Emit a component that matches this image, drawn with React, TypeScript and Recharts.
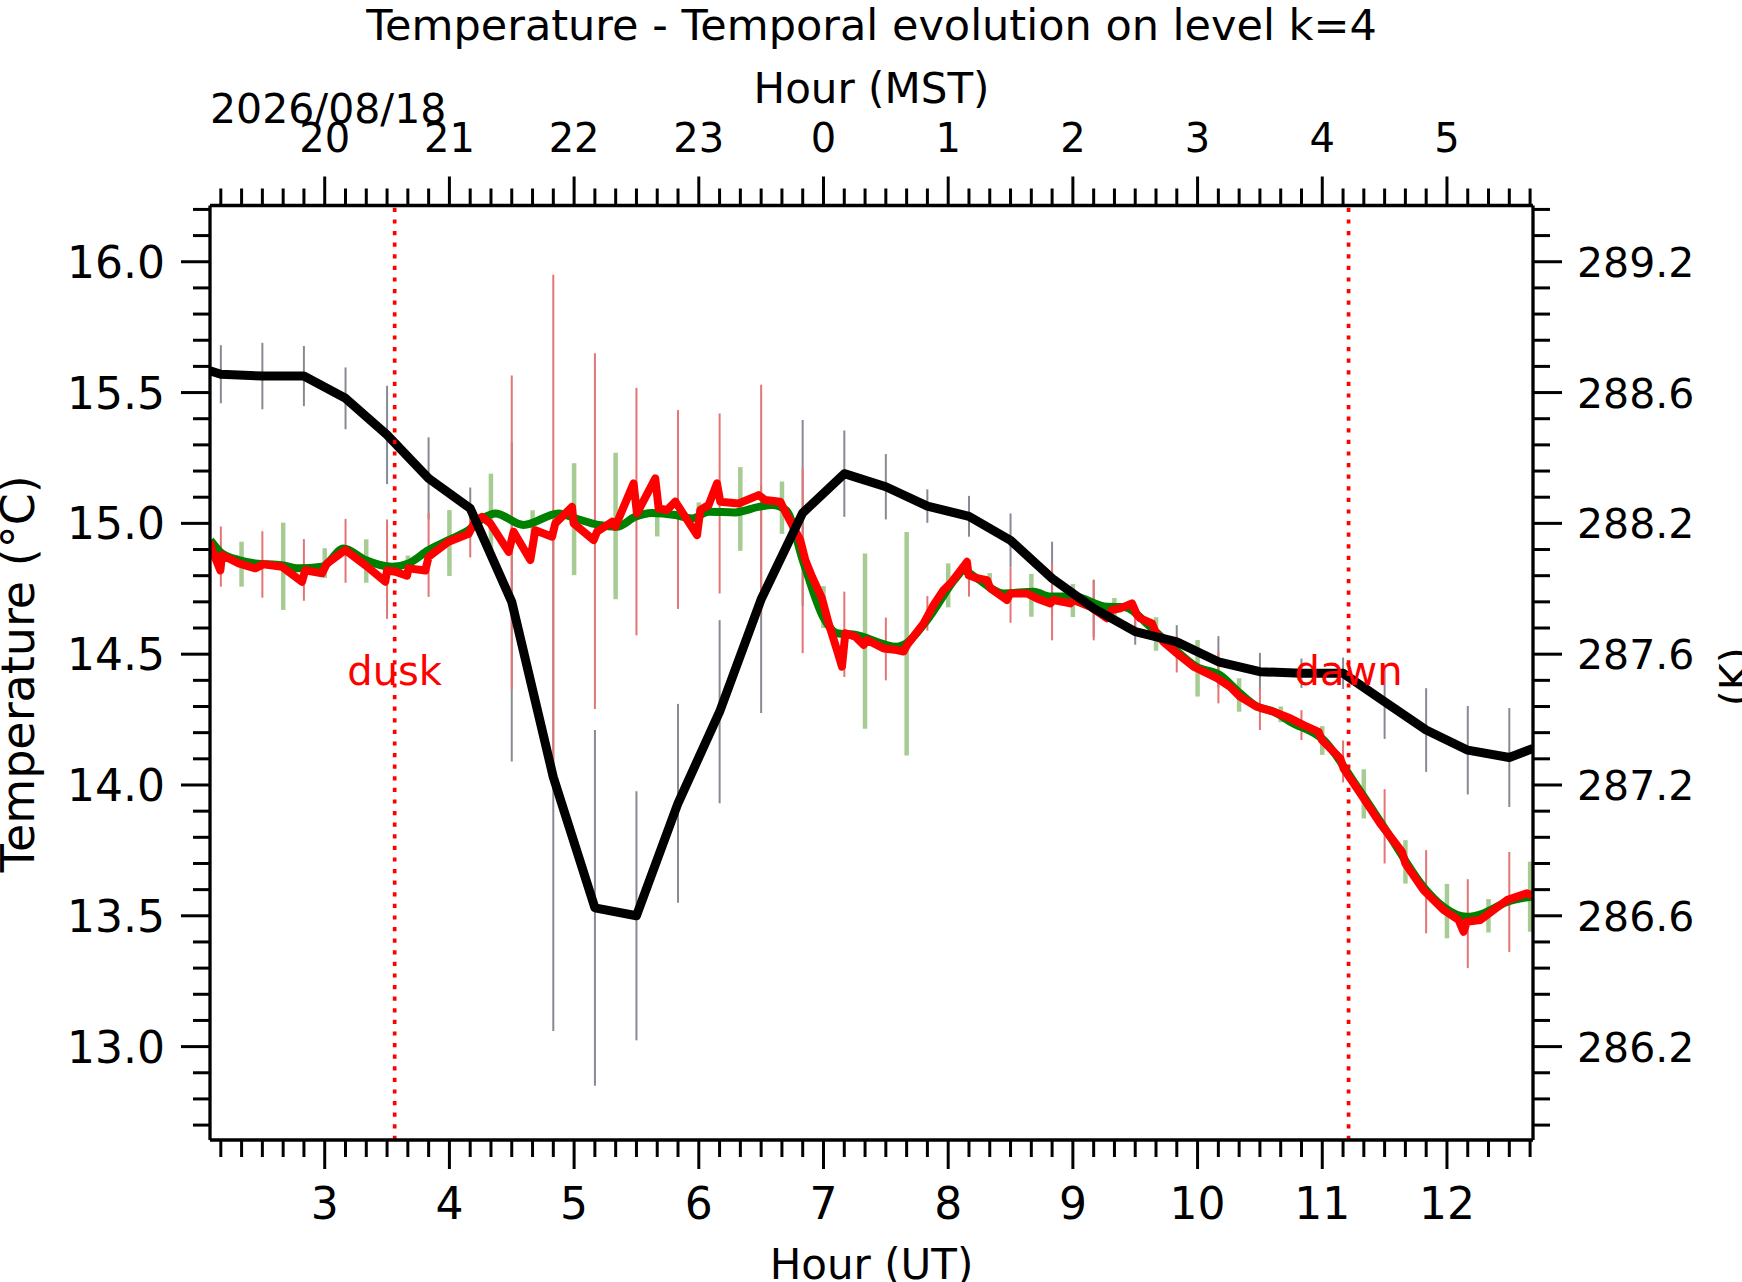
import React from "react";
import { ComposedChart, Line, XAxis, YAxis, ErrorBar, ReferenceLine, ReferenceDot } from "recharts";

// ---- data (hours UT, temperatures in degC) ----
const blackHours = [
    2.08, 2.167, 2.5, 2.833, 3.167, 3.5, 3.833, 4.167, 4.5, 4.833, 5.167, 5.5, 5.833, 6.167, 6.5, 6.833, 7.167,
    7.5, 7.833, 8.167, 8.5, 8.833, 9.167, 9.5, 9.833, 10.167, 10.5, 10.833, 11.167, 11.5, 11.833, 12.167, 12.5, 12.69,
];
const blackTemps = [
    15.583, 15.57, 15.563, 15.563, 15.478, 15.338, 15.172, 15.057, 14.7, 14.03, 13.53, 13.5, 13.93, 14.28, 14.71,
    15.04, 15.19, 15.14, 15.066, 15.027, 14.935, 14.79, 14.675, 14.586, 14.547, 14.471, 14.433, 14.427, 14.427,
    14.318, 14.21, 14.133, 14.105, 14.14,
];
const blackErr = [
    0, 0.111, 0.127, 0.115, 0.118, 0.188, 0.157, 0.08, 0.61, 0.97, 0.68, 0.476, 0.38, 0.35, 0.435, 0.355, 0.165,
    0.125, 0.064, 0.078, 0.103, 0.14, 0.11, 0.05, 0.064, 0.098, 0.072, 0.056, 0.06, 0.142, 0.16, 0.169, 0.189, 0,
];

const redHours = [
    2.083, 2.096, 2.163, 2.176, 2.31, 2.443, 2.51, 2.657, 2.818, 2.844, 2.978, 3.018, 3.165, 3.326, 3.486, 3.5,
    3.566, 3.66, 3.673, 3.807, 3.833, 3.994, 4.154, 4.208, 4.261, 4.328, 4.475, 4.515, 4.649, 4.689, 4.823, 4.849,
    4.983, 4.996, 5.157, 5.184, 5.304, 5.33, 5.477, 5.504, 5.651, 5.678, 5.745, 5.812, 5.986, 6.012, 6.079, 6.146,
    6.172, 6.319, 6.48, 6.533, 6.654, 6.694, 6.814, 6.854, 6.908, 6.988, 7.041, 7.108, 7.148, 7.175, 7.255, 7.322,
    7.349, 7.482, 7.59, 7.642, 7.67, 7.803, 7.883, 7.963, 8.03, 8.151, 8.163, 8.231, 8.311, 8.338, 8.471, 8.498,
    8.632, 8.712, 8.819, 8.845, 8.979, 9.006, 9.14, 9.273, 9.313, 9.38, 9.474, 9.514, 9.541, 9.634, 9.661, 9.727,
    9.835, 9.968, 10.156, 10.262, 10.342, 10.476, 10.609, 10.743, 10.85, 10.97, 10.997, 11.144, 11.171, 11.305,
    11.465, 11.639, 11.666, 11.813, 11.973, 12.093, 12.133, 12.16, 12.267, 12.481, 12.641, 12.69,
];
const redTemps = [
    14.93, 14.898, 14.82, 14.879, 14.847, 14.828, 14.844, 14.834, 14.777, 14.821, 14.809, 14.847, 14.898, 14.84,
    14.777, 14.82, 14.815, 14.8, 14.828, 14.82, 14.872, 14.93, 14.96, 15.01, 15.025, 15.0, 14.891, 14.968, 14.86,
    14.974, 14.949, 15.0, 15.063, 15.0, 14.936, 14.968, 15.006, 14.987, 15.153, 15.038, 15.172, 15.057, 15.051,
    15.083, 14.955, 15.051, 15.07, 15.153, 15.083, 15.076, 15.108, 15.089, 15.083, 15.044, 14.936, 14.86, 14.796,
    14.713, 14.618, 14.516, 14.452, 14.58, 14.567, 14.535, 14.554, 14.522, 14.516, 14.51, 14.535, 14.618, 14.688,
    14.745, 14.777, 14.853, 14.802, 14.79, 14.783, 14.752, 14.707, 14.732, 14.732, 14.713, 14.694, 14.707, 14.694,
    14.707, 14.681, 14.637, 14.669, 14.675, 14.694, 14.65, 14.637, 14.618, 14.586, 14.547, 14.503, 14.452, 14.408,
    14.375, 14.337, 14.299, 14.28, 14.255, 14.229, 14.203, 14.172, 14.102, 14.063, 13.968, 13.853, 13.745, 13.7,
    13.598, 13.522, 13.484, 13.439, 13.477, 13.484, 13.56, 13.586, 13.578,
];

const barHours = [
    2.167, 2.5, 2.833, 3.167, 3.5, 3.833, 4.167, 4.5, 4.833, 5.167, 5.5, 5.833, 6.167, 6.5, 6.833, 7.167, 7.5,
    7.833, 8.167, 8.5, 8.833, 9.167, 9.5, 9.833, 10.167, 10.5, 10.833, 11.167, 11.5, 11.833, 12.167, 12.5,
];
const redBarTemps = [
    14.873, 14.843, 14.822, 14.895, 14.825, 14.879, 14.97, 14.965, 15.0, 14.97, 15.045, 15.053, 15.076, 15.09,
    14.857, 14.576, 14.52, 14.656, 14.79, 14.726, 14.7, 14.668, 14.64, 14.5, 14.41, 14.29, 14.229, 14.09, 13.842,
    13.592, 13.47, 13.553,
];
const redErr = [
    0.115, 0.127, 0.118, 0.122, 0.19, 0.16, 0.1, 0.6, 0.95, 0.68, 0.473, 0.38, 0.344, 0.44, 0.353, 0.163, 0.12,
    0.066, 0.07, 0.106, 0.147, 0.115, 0.05, 0.07, 0.098, 0.08, 0.057, 0.08, 0.142, 0.159, 0.17, 0.191,
];

const greenHours = [
    2.083, 2.176, 2.31, 2.443, 2.657, 2.79, 2.978, 3.152, 3.326, 3.54, 3.673, 3.833, 3.994, 4.154, 4.288, 4.368,
    4.595, 4.876, 5.01, 5.197, 5.344, 5.49, 5.624, 5.812, 5.946, 6.079, 6.293, 6.48, 6.587, 6.7, 6.84, 7.0, 7.108,
    7.24, 7.59, 7.642, 7.83, 8.07, 8.12, 8.23, 8.444, 8.685, 8.819, 9.006, 9.273, 9.41, 9.62, 9.81, 9.99, 10.18,
    10.342, 10.476, 10.609, 10.743, 11.01, 11.28, 11.545, 11.81, 11.97, 12.16, 12.29, 12.48, 12.69,
];
const greenTemps = [
    14.936, 14.885, 14.86, 14.847, 14.84, 14.828, 14.834, 14.904, 14.86, 14.834, 14.847, 14.898, 14.936, 14.974,
    15.025, 15.038, 14.994, 15.038, 15.019, 14.994, 14.987, 15.025, 15.04, 15.032, 15.019, 15.044, 15.042, 15.063,
    15.07, 15.05, 14.85, 14.64, 14.58, 14.575, 14.528, 14.535, 14.63, 14.796, 14.82, 14.79, 14.732, 14.739, 14.72,
    14.72, 14.681, 14.68, 14.605, 14.522, 14.452, 14.42, 14.35, 14.3, 14.28, 14.242, 14.172, 13.993, 13.802,
    13.611, 13.535, 13.496, 13.509, 13.553, 13.574,
];

const greenBarHours = [
    2.333, 2.667, 3.0, 3.333, 3.667, 4.0, 4.333, 4.667, 5.0, 5.333, 5.667, 6.0, 6.333, 6.667, 7.0, 7.333, 7.667,
    8.0, 8.333, 8.667, 9.0, 9.333, 9.667, 10.0, 10.333, 10.667, 11.0, 11.333, 11.667, 12.0, 12.333, 12.667,
];
const greenBarTemps = [
    14.844, 14.836, 14.848, 14.856, 14.847, 14.925, 15.03, 14.99, 15.016, 14.99, 15.03, 15.03, 15.055, 15.06, 14.68,
    14.55, 14.54, 14.763, 14.78, 14.725, 14.705, 14.68, 14.577, 14.446, 14.344, 14.27, 14.17, 13.966, 13.706,
    13.518, 13.5, 13.573,
];
const greenErr = [
    0.086, 0.167, 0.057, 0.083, 0.03, 0.126, 0.16, 0.06, 0.214, 0.28, 0.08, 0.05, 0.16, 0.1, 0.08, 0.335, 0.427,
    0.084, 0.03, 0.082, 0.063, 0.035, 0.064, 0.108, 0.064, 0.03, 0.055, 0.094, 0.083, 0.104, 0.064, 0.134,
];

// ---- axes / labels ----
const utMajor = [3, 4, 5, 6, 7, 8, 9, 10, 11, 12];
const mstLabels = ["20", "21", "22", "23", "0", "1", "2", "3", "4", "5"];
const cMajor = [13.0, 13.5, 14.0, 14.5, 15.0, 15.5, 16.0];
const kLabels = ["286.2", "286.6", "287.2", "287.6", "288.2", "288.6", "289.2"];
const DUSK = 3.561;
const DAWN = 11.211;
const TWILIGHT_LABEL_T = 14.382;

const X_DOMAIN: [number, number] = [2.08, 12.69];
const Y_DOMAIN: [number, number] = [12.643, 16.215];

const W = 1742;
const H = 1282;
const PLOT = { left: 210, right: 1533, top: 205.5, bottom: 1140 };
const AXIS = 60; // room given to each axis box
const FONT = '"DejaVu Sans", sans-serif';
const MAJOR = 29;
const MINOR = 17;

const xTicks = Array.from({ length: 64 }, (_, i) => (i + 13) / 6);
const yTicks = Array.from({ length: 36 }, (_, i) => (i + 127) / 10);

const zip = (hs: number[], ts: number[], es?: number[]) =>
    hs.map((h, i) => ({ h, t: ts[i], e: es ? es[i] : 0 }));

const blackData = zip(blackHours, blackTemps, blackErr);
const redData = zip(redHours, redTemps);
const redBars = zip(barHours, redBarTemps, redErr);
const greenData = zip(greenHours, greenTemps);
const greenBars = zip(greenBarHours, greenBarTemps, greenErr);

const xMajorIndex = (v: number) => utMajor.findIndex((m) => Math.abs(m - v) < 1e-6);
const yMajorIndex = (v: number) => cMajor.findIndex((m) => Math.abs(m - v) < 1e-6);

// tick renderers: (x, y) is the point on the spine, since tickSize and tickMargin are 0
const BottomTick = ({ x, y, payload }: any) => {
    const i = xMajorIndex(payload.value);
    return (
        <g>
            <line x1={x} x2={x} y1={y} y2={y + (i >= 0 ? MAJOR : MINOR)} stroke="#000" strokeWidth={3} />
            {i >= 0 && (
                <text x={x} y={y + 79} textAnchor="middle" fontSize={44} fontFamily={FONT} fill="#000">
                    {utMajor[i]}
                </text>
            )}
        </g>
    );
};

const TopTick = ({ x, y, payload }: any) => {
    const i = xMajorIndex(payload.value);
    return (
        <g>
            <line x1={x} x2={x} y1={y} y2={y - (i >= 0 ? MAJOR : MINOR)} stroke="#000" strokeWidth={3} />
            {i >= 0 && (
                <text x={x} y={y - 54} textAnchor="middle" fontSize={40} fontFamily={FONT} fill="#000">
                    {mstLabels[i]}
                </text>
            )}
        </g>
    );
};

const LeftTick = ({ x, y, payload }: any) => {
    const i = yMajorIndex(payload.value);
    return (
        <g>
            <line x1={x} x2={x - (i >= 0 ? MAJOR : MINOR)} y1={y} y2={y} stroke="#000" strokeWidth={3} />
            {i >= 0 && (
                <text x={x - 45} y={y + 16} textAnchor="end" fontSize={44} fontFamily={FONT} fill="#000">
                    {cMajor[i].toFixed(1)}
                </text>
            )}
        </g>
    );
};

const RightTick = ({ x, y, payload }: any) => {
    const i = yMajorIndex(payload.value);
    return (
        <g>
            <line x1={x} x2={x + (i >= 0 ? MAJOR : MINOR)} y1={y} y2={y} stroke="#000" strokeWidth={3} />
            {i >= 0 && (
                <text x={x + 44} y={y + 15} textAnchor="start" fontSize={41} fontFamily={FONT} fill="#000">
                    {kLabels[i]}
                </text>
            )}
        </g>
    );
};

const twilightText = (label: string) => (p: any) => (
    <text x={p.cx} y={p.cy} textAnchor="middle" fontSize={40} fontFamily={FONT} fill="#ff0000">
        {label}
    </text>
);

const spine = { stroke: "#000", strokeWidth: 3.3 };

export default function App() {
    const cx = (PLOT.left + PLOT.right) / 2;
    const cy = (PLOT.top + PLOT.bottom) / 2;
    return (
        <div style={{ position: "absolute", left: 0, top: 0, width: W, height: H, background: "#fff", overflow: "hidden" }}>
            <ComposedChart
                width={W}
                height={H}
                margin={{
                    top: PLOT.top - AXIS,
                    right: W - PLOT.right - AXIS,
                    bottom: H - PLOT.bottom - AXIS,
                    left: PLOT.left - AXIS,
                }}
            >
                <XAxis
                    xAxisId="ut"
                    type="number"
                    dataKey="h"
                    domain={X_DOMAIN}
                    allowDataOverflow
                    ticks={xTicks}
                    interval={0}
                    tick={BottomTick}
                    tickLine={false}
                    tickSize={0}
                    tickMargin={0}
                    height={AXIS}
                    axisLine={spine}
                />
                <XAxis
                    xAxisId="mst"
                    orientation="top"
                    type="number"
                    dataKey="h"
                    domain={X_DOMAIN}
                    allowDataOverflow
                    ticks={xTicks}
                    interval={0}
                    tick={TopTick}
                    tickLine={false}
                    tickSize={0}
                    tickMargin={0}
                    height={AXIS}
                    axisLine={spine}
                />
                <YAxis
                    yAxisId="c"
                    type="number"
                    domain={Y_DOMAIN}
                    allowDataOverflow
                    ticks={yTicks}
                    interval={0}
                    tick={LeftTick}
                    tickLine={false}
                    tickSize={0}
                    tickMargin={0}
                    width={AXIS}
                    axisLine={spine}
                />
                <YAxis
                    yAxisId="k"
                    orientation="right"
                    type="number"
                    domain={Y_DOMAIN}
                    allowDataOverflow
                    ticks={yTicks}
                    interval={0}
                    tick={RightTick}
                    tickLine={false}
                    tickSize={0}
                    tickMargin={0}
                    width={AXIS}
                    axisLine={spine}
                />

                {/* error bars first, so the lines sit on top */}
                <Line xAxisId="ut" yAxisId="c" data={blackData} dataKey="t" stroke="none" dot={false} activeDot={false} isAnimationActive={false}>
                    <ErrorBar dataKey="e" width={0} stroke="#878a94" strokeWidth={2} direction="y" />
                </Line>
                <Line xAxisId="ut" yAxisId="c" data={greenBars} dataKey="t" stroke="none" dot={false} activeDot={false} isAnimationActive={false}>
                    <ErrorBar dataKey="e" width={0} stroke="#a6cc94" strokeWidth={4.5} direction="y" />
                </Line>
                <Line xAxisId="ut" yAxisId="c" data={redBars} dataKey="t" stroke="none" dot={false} activeDot={false} isAnimationActive={false}>
                    <ErrorBar dataKey="e" width={0} stroke="#e47575" strokeWidth={2} direction="y" />
                </Line>

                <Line xAxisId="ut" yAxisId="c" data={greenData} dataKey="t" type="monotone" stroke="#008000" strokeWidth={8} dot={false} activeDot={false} isAnimationActive={false} />
                <Line xAxisId="ut" yAxisId="c" data={redData} dataKey="t" type="linear" stroke="#ff0000" strokeWidth={8} strokeLinejoin="round" dot={false} activeDot={false} isAnimationActive={false} />
                <Line xAxisId="ut" yAxisId="c" data={blackData} dataKey="t" type="linear" stroke="#000" strokeWidth={9} strokeLinejoin="round" dot={false} activeDot={false} isAnimationActive={false} />

                <ReferenceLine xAxisId="ut" yAxisId="c" x={DUSK} stroke="#ff0000" strokeWidth={3.7} strokeDasharray="4.2 7.4" />
                <ReferenceLine xAxisId="ut" yAxisId="c" x={DAWN} stroke="#ff0000" strokeWidth={3.7} strokeDasharray="4.2 7.4" />
                <ReferenceDot xAxisId="ut" yAxisId="c" x={DUSK} y={TWILIGHT_LABEL_T} r={0} shape={twilightText("dusk")} />
                <ReferenceDot xAxisId="ut" yAxisId="c" x={DAWN} y={TWILIGHT_LABEL_T} r={0} shape={twilightText("dawn")} />
            </ComposedChart>

            <svg width={W} height={H} style={{ position: "absolute", left: 0, top: 0, pointerEvents: "none" }}>
                <g fontFamily={FONT} fill="#000">
                    <text x={cx} y={40} textAnchor="middle" fontSize={43}>
                        Temperature - Temporal evolution on level k=4
                    </text>
                    <text x={cx} y={103} textAnchor="middle" fontSize={42}>
                        Hour (MST)
                    </text>
                    <text x={PLOT.left} y={123} textAnchor="start" fontSize={41}>
                        2026/08/18
                    </text>
                    <text x={cx} y={1279} textAnchor="middle" fontSize={42}>
                        Hour (UT)
                    </text>
                    <text transform={`translate(34, ${cy + 1}) rotate(-90)`} textAnchor="middle" fontSize={46}>
                        Temperature (°C)
                    </text>
                    <text transform={`translate(1749, ${cy + 4}) rotate(-90)`} textAnchor="middle" fontSize={41}>
                        (K)
                    </text>
                </g>
            </svg>
        </div>
    );
}
